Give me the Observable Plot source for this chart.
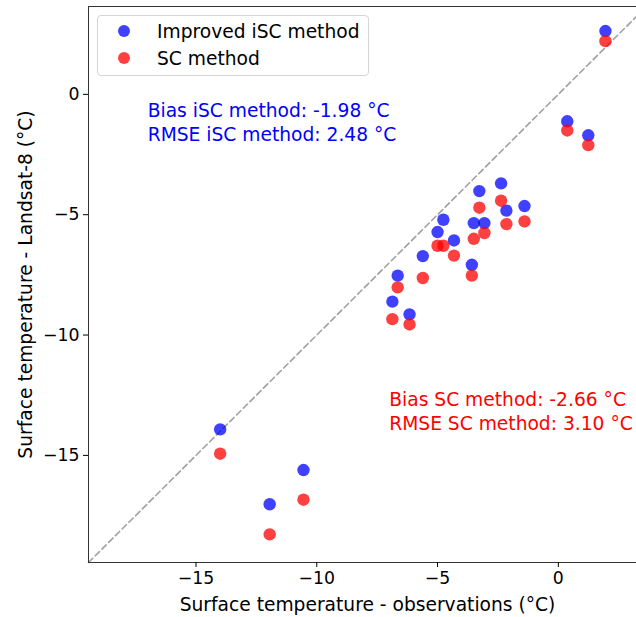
<!DOCTYPE html>
<html>
<head>
<meta charset="utf-8">
<script src="https://cdn.jsdelivr.net/npm/d3@7"></script>
<script src="https://cdn.jsdelivr.net/npm/@observablehq/plot@0.6"></script>
<style>
  html, body { margin: 0; padding: 0; background: #fff; }
  #wrap { position: relative; width: 636px; height: 617px; overflow: hidden; font-family: "DejaVu Sans", sans-serif; }
  #wrap svg { max-width: none !important; position: absolute; left: 0; top: 0; }
  #legend { position: absolute; left: 97px; top: 15px; width: 272px; height: 61px; border: 1px solid #d5d5d5; border-radius: 4px; background: rgba(255,255,255,0.85); box-sizing: border-box; }
  .item { position: absolute; left: 0; font-size: 18.67px; line-height: 22px; color: #000; white-space: nowrap; }
  .sw { position: absolute; width: 12px; height: 12px; border-radius: 50%; }
</style>
</head>
<body>
<div id="wrap"></div>
<script>
// Observed surface temperature (°C)
const observed = [-14.0, -11.95, -10.55, -6.87, -6.65, -6.16, -5.61, -5.0, -4.76, -4.32, -3.58, -3.5, -3.27, -3.06, -2.37, -2.15, -1.4, 0.37, 1.24, 1.95];
// Landsat-8 retrieved surface temperature, improved iSC method (°C)
const iscValues = [-13.92, -17.03, -15.61, -8.61, -7.53, -9.14, -6.72, -5.72, -5.21, -6.07, -7.08, -5.35, -4.02, -5.35, -3.70, -4.83, -4.64, -1.12, -1.70, 2.63];
// Landsat-8 retrieved surface temperature, SC method (°C)
const scValues = [-14.93, -18.28, -16.84, -9.34, -8.02, -9.56, -7.63, -6.29, -6.29, -6.70, -7.53, -6.00, -4.71, -5.76, -4.42, -5.39, -5.28, -1.50, -2.11, 2.21];
const axisLimits = [-19.45, 3.65];
const tickValues = [-15, -10, -5, 0];
const seriesNames = ["Improved iSC method", "SC method"];
const statsISC = ["Bias iSC method: -1.98 °C", "RMSE iSC method: 2.48 °C"];
const statsSC = ["Bias SC method: -2.66 °C", "RMSE SC method: 3.10 °C"];

const blue = "rgba(0,0,255,0.75)";
const red = "rgba(255,0,0,0.75)";

const iscRows = observed.map((x, i) => ({x, y: iscValues[i]}));
const scRows = observed.map((x, i) => ({x, y: scValues[i]}));
const diag = axisLimits.map(v => ({x: v, y: v}));

const chart = Plot.plot({
  width: 646,
  height: 617,
  marginLeft: 88,
  marginRight: 0,
  marginTop: 6,
  marginBottom: 55,
  style: {fontFamily: "DejaVu Sans, sans-serif", fontSize: "17.3px", color: "#000", background: "#fff", overflow: "visible", maxWidth: "none"},
  x: {domain: axisLimits, label: null},
  y: {domain: axisLimits, label: null},
  marks: [
    Plot.line(diag, {x: "x", y: "y", stroke: "#a0a0a0", strokeWidth: 1.6, strokeDasharray: "6,3.5"}),
    Plot.dot(iscRows, {x: "x", y: "y", r: 6.2, fill: blue, stroke: "none"}),
    Plot.dot(scRows, {x: "x", y: "y", r: 6.2, fill: red, stroke: "none"}),
    Plot.text(statsISC, {x: -17.0, y: (d, i) => -0.7 - i * 1.0, text: d => d, fill: "blue", textAnchor: "start", fontSize: 18.67}),
    Plot.text(statsSC, {x: -7.0, y: (d, i) => -12.7 - i * 1.0, text: d => d, fill: "red", textAnchor: "start", fontSize: 18.67}),
    Plot.frame({stroke: "#333", strokeWidth: 1}),
    Plot.axisX({ticks: tickValues, tickSize: 5, tickPadding: 4, fontSize: 17.3, label: null}),
    Plot.axisY({ticks: tickValues, tickSize: 5, tickPadding: 4, fontSize: 17.3, label: null}),
    Plot.axisX({ticks: [], tickSize: 0, label: "Surface temperature - observations (°C)", labelAnchor: "center", labelArrow: "none", labelOffset: 48, fontSize: 18.67}),
    Plot.axisY({ticks: [], tickSize: 0, label: "Surface temperature - Landsat-8 (°C)", labelAnchor: "center", labelArrow: "none", labelOffset: 70, fontSize: 18.67})
  ]
});

const wrap = document.getElementById("wrap");
wrap.appendChild(chart);

const legend = document.createElement("div");
legend.id = "legend";
const colors = [blue, red];
seriesNames.forEach((name, i) => {
  const sw = document.createElement("div");
  sw.className = "sw";
  sw.style.left = (27 - 1 - 6) + "px";
  sw.style.top = (16 - 1 - 6 + i * 27) + "px";
  sw.style.background = colors[i];
  legend.appendChild(sw);
  const t = document.createElement("div");
  t.className = "item";
  t.style.left = (60 - 1) + "px";
  t.style.top = (16 - 1 - 10 + i * 27) + "px";
  t.textContent = name;
  legend.appendChild(t);
});
wrap.appendChild(legend);
</script>
</body>
</html>
